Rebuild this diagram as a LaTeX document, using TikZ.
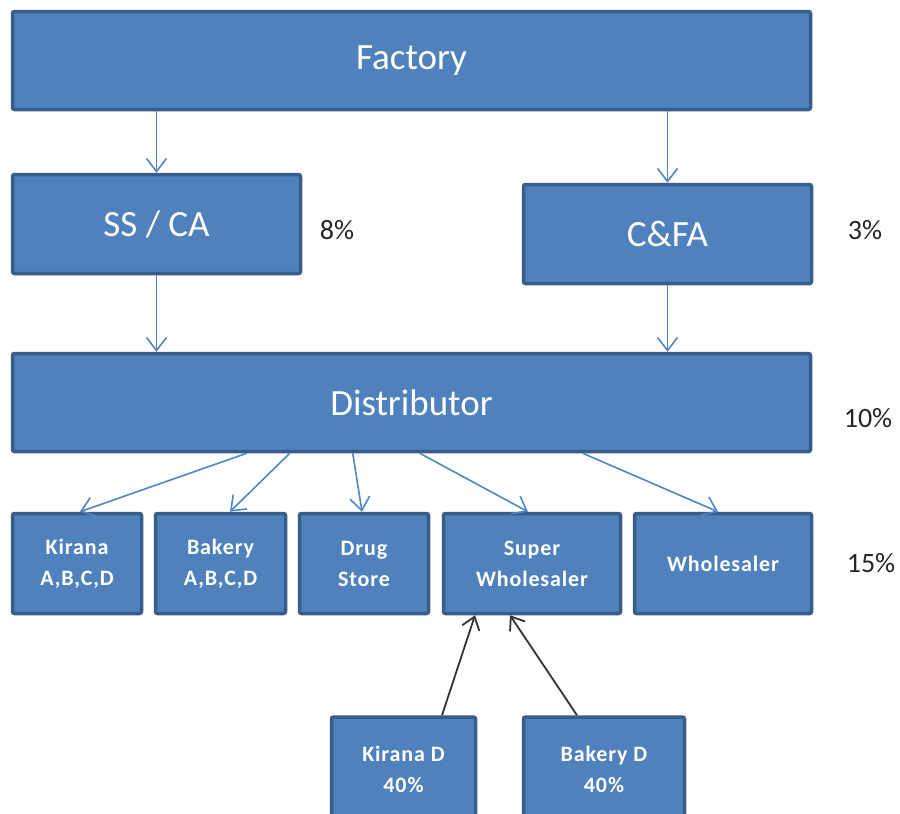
\documentclass[tikz,border=0pt]{standalone}
\usepackage{fontspec}
\setmainfont{Carlito}
\newfontfamily\spacedfont[LetterSpace=4]{Carlito}
\usetikzlibrary{arrows.meta}
\definecolor{boxfill}{HTML}{4F81BD}
\definecolor{boxline}{HTML}{385D8A}
\definecolor{arrblue}{HTML}{4F86C6}
\definecolor{pcttext}{HTML}{262626}
\definecolor{darkarr}{HTML}{333333}
\tikzset{
  bigbox/.style={draw=boxline, fill=boxfill, line width=3.5pt, rounded corners=2pt, text=white, inner sep=0pt, font=\fontsize{37}{40}\selectfont},
  smallbox/.style={draw=boxline, fill=boxfill, line width=3.5pt, rounded corners=2pt, text=white, inner sep=0pt, align=center, font=\spacedfont\bfseries\fontsize{22}{31}\selectfont},
  pct/.style={text=pcttext, inner sep=0pt, font=\fontsize{28}{30}\selectfont},
  barr/.style={draw=arrblue, line width=1.6pt, -{Straight Barb[length=13pt,width=20pt,line width=1.6pt]}},
  karr/.style={draw=darkarr, line width=1.8pt, -{Straight Barb[length=12pt,width=18pt,line width=1.8pt]}}
}
\begin{document}
\begin{tikzpicture}[x=1pt,y=-1pt]
\useasboundingbox (0,0) rectangle (900,814);
\clip (0,0) rectangle (900,814);
\fill[white] (0,0) rectangle (900,814);
% boxes
\node[bigbox, minimum width=798pt, minimum height=98pt] (fac) at (411.5,60.5) {Factory};
\node[bigbox, minimum width=288pt, minimum height=99pt] (ss) at (156.5,224) {SS / CA};
\node[bigbox, minimum width=288pt, minimum height=99pt] (cfa) at (667.5,234) {C\&FA};
\node[bigbox, minimum width=798pt, minimum height=98pt] (dist) at (411.5,402.5) {Distributor};
\node[smallbox, minimum width=129pt, minimum height=100pt] (kir) at (77,563.5) {Kirana\\A,B,C,D};
\node[smallbox, minimum width=130pt, minimum height=100pt] (bak) at (220.5,563.5) {Bakery\\A,B,C,D};
\node[smallbox, minimum width=129pt, minimum height=100pt] (drug) at (364,563.5) {Drug\\Store};
\node[smallbox, minimum width=177pt, minimum height=100pt] (sup) at (532,563.5) {Super\\Wholesaler};
\node[smallbox, minimum width=177pt, minimum height=100pt] (whs) at (723,563.5) {Wholesaler};
\node[smallbox, minimum width=144pt, minimum height=104pt] (kd) at (403.5,769) {Kirana D\\40\%};
\node[smallbox, minimum width=161pt, minimum height=104pt] (bd) at (604,769) {Bakery D\\40\%};
% percentages
\node[pct] (p1) at (337,230) {8\%};
\node[pct] (p2) at (865,230) {3\%};
\node[pct] (p3) at (868,418) {10\%};
\node[pct] (p4) at (871,563) {15\%};
% arrows
\draw[barr] (ss.north |- fac.south) -- (ss.north);
\draw[barr] (cfa.north |- fac.south) -- (cfa.north);
\draw[barr] (ss.south) -- (ss.south |- dist.north);
\draw[barr] (cfa.south) -- (cfa.south |- dist.north);
\draw[barr] ([xshift=236pt]dist.south west) -- ([xshift=3pt]kir.north);
\draw[barr] ([xshift=279pt]dist.south west) -- ([xshift=9.5pt]bak.north);
\draw[barr] ([xshift=342pt]dist.south west) -- ([xshift=-2pt]drug.north);
\draw[barr] ([xshift=409pt]dist.south west) -- ([xshift=-4pt]sup.north);
\draw[barr] ([xshift=572pt]dist.south west) -- ([xshift=-5pt]whs.north);
\draw[karr] ([xshift=38.5pt]kd.north) -- ([xshift=-57pt]sup.south);
\draw[karr] ([xshift=-27pt]bd.north) -- ([xshift=-22pt]sup.south);
\end{tikzpicture}
\end{document}
